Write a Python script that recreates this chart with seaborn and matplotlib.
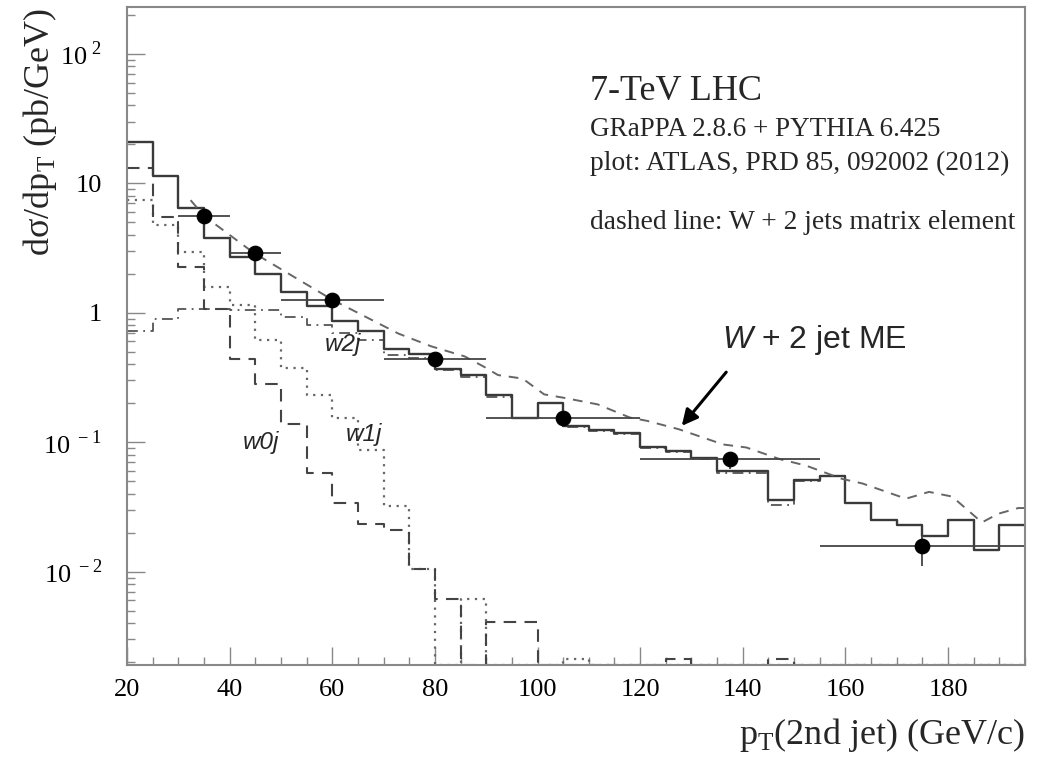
import numpy as np
import matplotlib
matplotlib.use('Agg')
import matplotlib.pyplot as plt
import seaborn as sns

# 5 GeV bins from 20 to 195 GeV
bin_edges = np.arange(20, 200, 5)

# total (w0j + w1j + w2j) after shower, pb/GeV
total = [21.0, 11.4, 6.4, 3.8, 2.7, 2.0, 1.44, 1.12, 0.87, 0.72,
         0.52, 0.48, 0.37, 0.33, 0.23, 0.155, 0.20, 0.133, 0.124, 0.117,
         0.091, 0.086, 0.075, 0.060, 0.060, 0.036, 0.051, 0.055, 0.034, 0.025,
         0.023, 0.0188, 0.025, 0.0146, 0.023]
w0j = [13.1, 5.5, 2.27, 1.07, 0.44, 0.28, 0.137, 0.058, 0.034, 0.0233,
       0.021, 0.0104, 0.0062, 0, 0.0041, 0.0041, 0, 0, 0, 0,
       0, 0.0021, 0, 0, 0, 0.0021, 0, 0, 0, 0,
       0, 0, 0, 0, 0]
w1j = [7.4, 4.8, 2.96, 1.59, 1.15, 0.62, 0.375, 0.23, 0.153, 0.087,
       0.032, 0.0104, 0, 0.0062, 0, 0, 0, 0.0021, 0, 0,
       0, 0, 0, 0, 0, 0, 0, 0, 0, 0,
       0, 0, 0, 0, 0]
w2j = [0.72, 0.90, 1.07, 1.07, 1.05, 1.05, 0.92, 0.81, 0.70, 0.62,
       0.47, 0.45, 0.36, 0.32, 0.225, 0.155, 0.20, 0.13, 0.122, 0.116,
       0.090, 0.084, 0.074, 0.058, 0.058, 0.033, 0.050, 0.055, 0.034, 0.025,
       0.023, 0.0188, 0.025, 0.0146, 0.023]

# W + 2 jets matrix element (dashed curve)
me_x = [32.4, 35, 44.7, 60, 72.9, 79.3, 85.8, 89.7, 92.3, 97.1, 101.3, 105.2,
        111.7, 118, 121.4, 127.5, 136.2, 140.7, 147.2, 152.3, 159.4, 163.3,
        171.8, 176.3, 180.8, 186.6, 189.8, 193.7, 195]
me_y = [7.4, 5.6, 2.9, 1.26, 0.69, 0.55, 0.46, 0.38, 0.33, 0.31, 0.234, 0.22,
        0.196, 0.155, 0.146, 0.126, 0.096, 0.091, 0.074, 0.066, 0.052, 0.048,
        0.0366, 0.0413, 0.038, 0.024, 0.028, 0.031, 0.031]

# ATLAS data
data_x = np.array([35, 45, 60, 80, 105, 137.5, 175])
data_lo = np.array([30, 40, 50, 70, 90, 120, 155])
data_hi = np.array([40, 50, 70, 90, 120, 155, 195])
data_y = np.array([5.6, 2.89, 1.26, 0.44, 0.154, 0.074, 0.0157])
data_err_lo = np.array([0.15, 0.06, 0.03, 0.012, 0.022, 0.012, 0.0047])
data_err_hi = np.array([0.15, 0.06, 0.03, 0.012, 0.022, 0.005, 0.003])

y_floor = 1.9e-3
y_top = 230

sns.set_theme(style='white')
plt.rcParams['font.family'] = ['Liberation Serif', 'DejaVu Serif']
plt.rcParams['mathtext.fontset'] = 'custom'
plt.rcParams['mathtext.rm'] = 'Liberation Serif'
plt.rcParams['mathtext.it'] = 'Liberation Sans:italic'

fig = plt.figure(figsize=(10.37, 7.63), dpi=100)
ax = fig.add_axes([127 / 1037, 98 / 763, 898 / 1037, 658 / 763])


def draw_hist(vals, **kw):
    y = np.maximum(np.append(vals, vals[-1]), y_floor)
    sns.lineplot(x=bin_edges, y=y, drawstyle='steps-post', ax=ax, **kw)


draw_hist(w2j, color='#555555', linewidth=1.3, linestyle=(0, (6, 3, 1, 3)))
draw_hist(w1j, color='#666666', linewidth=1.6, linestyle=(0, (1, 2.5)))
draw_hist(w0j, color='#444444', linewidth=1.5, linestyle=(0, (6, 4)))
draw_hist(total, color='#3a3a3a', linewidth=1.7)
sns.lineplot(x=me_x, y=me_y, ax=ax, color='#666666', linewidth=1.4,
             linestyle=(0, (5, 4)))

ax.errorbar(data_x, data_y, xerr=[data_x - data_lo, data_hi - data_x],
            yerr=[data_err_lo, data_err_hi], fmt='none', ecolor='#444444',
            elinewidth=1.3)
sns.scatterplot(x=data_x, y=data_y, ax=ax, color='black', s=110,
                edgecolor='black', zorder=5)

ax.set_yscale('log')
ax.set_xlim(20, 195)
ax.set_ylim(y_floor, y_top)

ax.set_xticks(np.arange(20, 181, 20))
ax.set_xticks(np.arange(20, 196, 5), minor=True)
ax.set_xticklabels([str(v) for v in range(20, 181, 20)], fontsize=19)
ax.set_yticks([1e-2, 1e-1, 1, 10, 100])
ax.set_yticklabels(['$10^{\\ -2}$', '$10^{\\ -1}$', '1', '10', '$10^{\\ 2}$'],
                   fontsize=19)
ax.yaxis.set_minor_locator(matplotlib.ticker.LogLocator(base=10, subs=np.arange(2, 10)))
ax.yaxis.set_minor_formatter(matplotlib.ticker.NullFormatter())
ax.tick_params(which='both', direction='in', colors='#888888', labelcolor='black',
               top=False, right=False, left=True, bottom=True)
ax.tick_params(which='major', length=13, width=1.0)
ax.tick_params(which='minor', length=6, width=1.0)
ax.tick_params(axis='y', pad=18)
ax.tick_params(axis='x', pad=10)
for s in ax.spines.values():
    s.set_color('#888888')
    s.set_linewidth(1.5)
ax.set_xlabel('')
ax.set_ylabel('')

# axis titles
fig.text(40 / 1037, 1 - 132 / 763, 'dσ/dp$_{\\rm T}$ (pb/GeV)', rotation=90,
         ha='center', va='center', fontsize=26)
fig.text(1025 / 1037, 1 - 735 / 763, 'p$_{\\rm T}$(2nd jet) (GeV/c)',
         ha='right', va='center', fontsize=26)

# info block
fig.text(590 / 1037, 1 - 100 / 763, '7-TeV LHC', ha='left', va='baseline', fontsize=26)
fig.text(590 / 1037, 1 - 136 / 763, 'GRaPPA 2.8.6 + PYTHIA 6.425', ha='left',
         va='baseline', fontsize=19.5)
fig.text(590 / 1037, 1 - 170 / 763, 'plot: ATLAS, PRD 85, 092002 (2012)',
         ha='left', va='baseline', fontsize=19.8)
fig.text(590 / 1037, 1 - 229 / 763, 'dashed line: W + 2 jets matrix element',
         ha='left', va='baseline', fontsize=19.8)

# curve labels
sans_it = dict(family='Liberation Sans', style='italic', fontsize=17.5,
               ha='center', va='center')
fig.text(343 / 1037, 1 - 345 / 763, 'w2j', **sans_it)
fig.text(261 / 1037, 1 - 442 / 763, 'w0j', **sans_it)
fig.text(364 / 1037, 1 - 434 / 763, 'w1j', **sans_it)
fig.text(722 / 1037, 1 - 340 / 763, '$W$ + 2 jet ME', family='Liberation Sans',
         fontsize=23, ha='left', va='center')
ax.annotate('', xy=(680 / 1037, 1 - 428 / 763), xytext=(728 / 1037, 1 - 370 / 763),
            xycoords='figure fraction', textcoords='figure fraction',
            arrowprops=dict(arrowstyle='-|>', color='black', lw=2.2,
                            mutation_scale=24))

fig.savefig('out.png', dpi=100)
